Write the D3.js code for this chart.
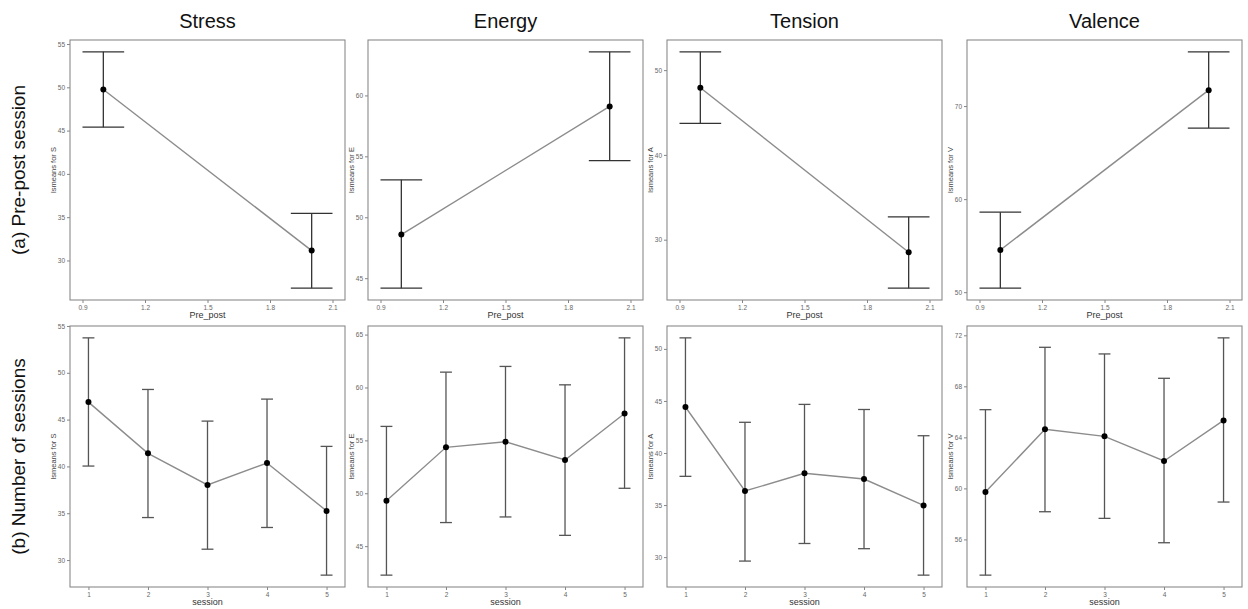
<!DOCTYPE html>
<html>
<head>
<meta charset="utf-8">
<script src="https://cdn.jsdelivr.net/npm/d3@7"></script>
<style>
  html, body { margin: 0; padding: 0; background: #fff; }
  svg { display: block; font-family: "Liberation Sans", Arial, sans-serif; }
</style>
</head>
<body>
<svg id="chart" width="1248" height="609"></svg>
<script>
// ---------------- data ----------------
const measures = ["Stress", "Energy", "Tension", "Valence"];
const yLetters = ["S", "E", "A", "V"];
const rowLabels = ["(a) Pre-post session", "(b) Number of sessions"];
const xTitles = ["Pre_post", "session"];

// Row (a): pre/post
const prePostX = [1, 2];
const prePostMean = {
  Stress:  [49.75, 31.14],
  Energy:  [48.58, 59.10],
  Tension: [47.93, 28.52],
  Valence: [54.53, 71.71]
};
const prePostUpper = {
  Stress:  [54.10, 35.45],
  Energy:  [53.07, 63.58],
  Tension: [52.16, 32.70],
  Valence: [58.60, 75.83]
};
const prePostLower = {
  Stress:  [45.40, 26.80],
  Energy:  [44.18, 54.65],
  Tension: [43.73, 24.28],
  Valence: [50.43, 67.64]
};
const prePostXTicks = [0.9, 1.2, 1.5, 1.8, 2.1];
const prePostYTicks = {
  Stress:  [30, 35, 40, 45, 50, 55],
  Energy:  [45, 50, 55, 60],
  Tension: [30, 40, 50],
  Valence: [50, 60, 70]
};

// Row (b): sessions
const sessionX = [1, 2, 3, 4, 5];
const sessionMean = {
  Stress:  [46.87, 41.40, 38.02, 40.36, 35.25],
  Energy:  [49.30, 54.34, 54.87, 53.14, 57.54],
  Tension: [44.42, 36.35, 38.05, 37.50, 34.97],
  Valence: [59.71, 64.63, 64.08, 62.15, 65.33]
};
const sessionUpper = {
  Stress:  [53.73, 48.22, 44.84, 47.19, 42.14],
  Energy:  [56.32, 61.45, 61.99, 60.25, 64.69],
  Tension: [51.06, 42.95, 44.67, 44.18, 41.66],
  Valence: [66.17, 71.06, 70.54, 68.63, 71.80]
};
const sessionLower = {
  Stress:  [40.04, 34.54, 31.16, 33.48, 28.39],
  Energy:  [42.26, 47.23, 47.76, 46.02, 50.47],
  Tension: [37.76, 29.62, 31.31, 30.81, 28.27],
  Valence: [53.20, 58.17, 57.65, 55.74, 58.93]
};
const sessionXTicks = [1, 2, 3, 4, 5];
const sessionYTicks = {
  Stress:  [30, 35, 40, 45, 50, 55],
  Energy:  [45, 50, 55, 60, 65],
  Tension: [30, 35, 40, 45, 50],
  Valence: [56, 60, 64, 68, 72]
};

// ---------------- layout ----------------
const svg = d3.select("#chart");
const panelLeft = [70, 368, 667, 967];
const panelWidth = 275;
const rowTop = [40, 326];
const rowHeight = [260, 261];
const capHalf = 0.1;  // error bar half width (data units)

const rows = [
  { x: prePostX, mean: prePostMean, up: prePostUpper, lo: prePostLower, xTicks: prePostXTicks, yTicks: prePostYTicks, xfmt: d3.format(".1f") },
  { x: sessionX, mean: sessionMean, up: sessionUpper, lo: sessionLower, xTicks: sessionXTicks, yTicks: sessionYTicks, xfmt: d3.format("d") }
];

// Column titles
measures.forEach((m, c) => {
  svg.append("text")
    .attr("x", panelLeft[c] + panelWidth / 2)
    .attr("y", 28)
    .attr("text-anchor", "middle")
    .attr("font-size", 20)
    .attr("fill", "#111")
    .text(m);
});

// Row labels
rowLabels.forEach((lab, r) => {
  const cy = rowTop[r] + rowHeight[r] / 2;
  svg.append("text")
    .attr("transform", `translate(25,${cy}) rotate(-90)`)
    .attr("text-anchor", "middle")
    .attr("font-size", 19)
    .attr("fill", "#111")
    .text(lab);
});

rows.forEach((row, r) => {
  measures.forEach((m, c) => {
    const x0 = panelLeft[c], y0 = rowTop[r], w = panelWidth, h = rowHeight[r];
    const lo = row.lo[m], up = row.up[m], mean = row.mean[m];
    // ggplot-like 5% expansion
    const xmin = d3.min(row.x) - capHalf, xmax = d3.max(row.x) + capHalf;
    const xpad = (xmax - xmin) * 0.05;
    const ymin = d3.min(lo), ymax = d3.max(up);
    const ypad = (ymax - ymin) * 0.05;
    const xs = d3.scaleLinear().domain([xmin - xpad, xmax + xpad]).range([x0, x0 + w]);
    const ys = d3.scaleLinear().domain([ymin - ypad, ymax + ypad]).range([y0 + h, y0]);

    const g = svg.append("g");

    // Axes
    const yAxis = d3.axisLeft(ys).tickValues(row.yTicks[m]).tickSize(3).tickPadding(2).tickFormat(d3.format("d"));
    const ya = g.append("g").attr("transform", `translate(${x0},0)`).call(yAxis);
    const xAxis = d3.axisBottom(xs).tickValues(row.xTicks).tickSize(3).tickPadding(2).tickFormat(row.xfmt);
    const xa = g.append("g").attr("transform", `translate(0,${y0 + h})`).call(xAxis);
    [ya, xa].forEach(a => {
      a.select(".domain").remove();
      a.selectAll(".tick line").attr("stroke", "#666").attr("stroke-width", 0.8);
      a.selectAll(".tick text").attr("fill", "#666").attr("font-size", 6.5)
        .attr("font-family", "'Liberation Sans', Arial, sans-serif");
    });

    // Panel border
    g.append("rect")
      .attr("x", x0).attr("y", y0).attr("width", w).attr("height", h)
      .attr("fill", "none").attr("stroke", "#8a8a8a").attr("stroke-width", 1.1);

    // Axis titles
    g.append("text")
      .attr("transform", `translate(${x0 - 14},${y0 + h / 2}) rotate(-90)`)
      .attr("text-anchor", "middle")
      .attr("font-size", 7.5)
      .attr("fill", "#444")
      .text("lsmeans for " + yLetters[c]);
    g.append("text")
      .attr("x", x0 + w / 2)
      .attr("y", y0 + h + 18)
      .attr("text-anchor", "middle")
      .attr("font-size", 9)
      .attr("fill", "#333")
      .text(row === rows[0] ? xTitles[0] : xTitles[1]);

    const pts = row.x.map((xv, i) => ({ x: xv, m: mean[i], lo: lo[i], up: up[i] }));
    const ebColor = r === 0 ? "#333" : "#555";

    // Connecting line
    g.append("path")
      .datum(pts)
      .attr("fill", "none")
      .attr("stroke", "#8c8c8c")
      .attr("stroke-width", 1.4)
      .attr("d", d3.line().x(d => xs(d.x)).y(d => ys(d.m)));

    // Error bars
    const eb = g.append("g").attr("stroke", ebColor).attr("stroke-width", 1.3).attr("fill", "none");
    eb.selectAll("line.v").data(pts).join("line").attr("class", "v")
      .attr("x1", d => xs(d.x)).attr("x2", d => xs(d.x))
      .attr("y1", d => ys(d.lo)).attr("y2", d => ys(d.up));
    eb.selectAll("line.t").data(pts).join("line").attr("class", "t")
      .attr("x1", d => xs(d.x - capHalf)).attr("x2", d => xs(d.x + capHalf))
      .attr("y1", d => ys(d.up)).attr("y2", d => ys(d.up));
    eb.selectAll("line.b").data(pts).join("line").attr("class", "b")
      .attr("x1", d => xs(d.x - capHalf)).attr("x2", d => xs(d.x + capHalf))
      .attr("y1", d => ys(d.lo)).attr("y2", d => ys(d.lo));

    // Points
    g.selectAll("circle").data(pts).join("circle")
      .attr("cx", d => xs(d.x)).attr("cy", d => ys(d.m))
      .attr("r", 3).attr("fill", "#000");
  });
});
</script>
</body>
</html>
